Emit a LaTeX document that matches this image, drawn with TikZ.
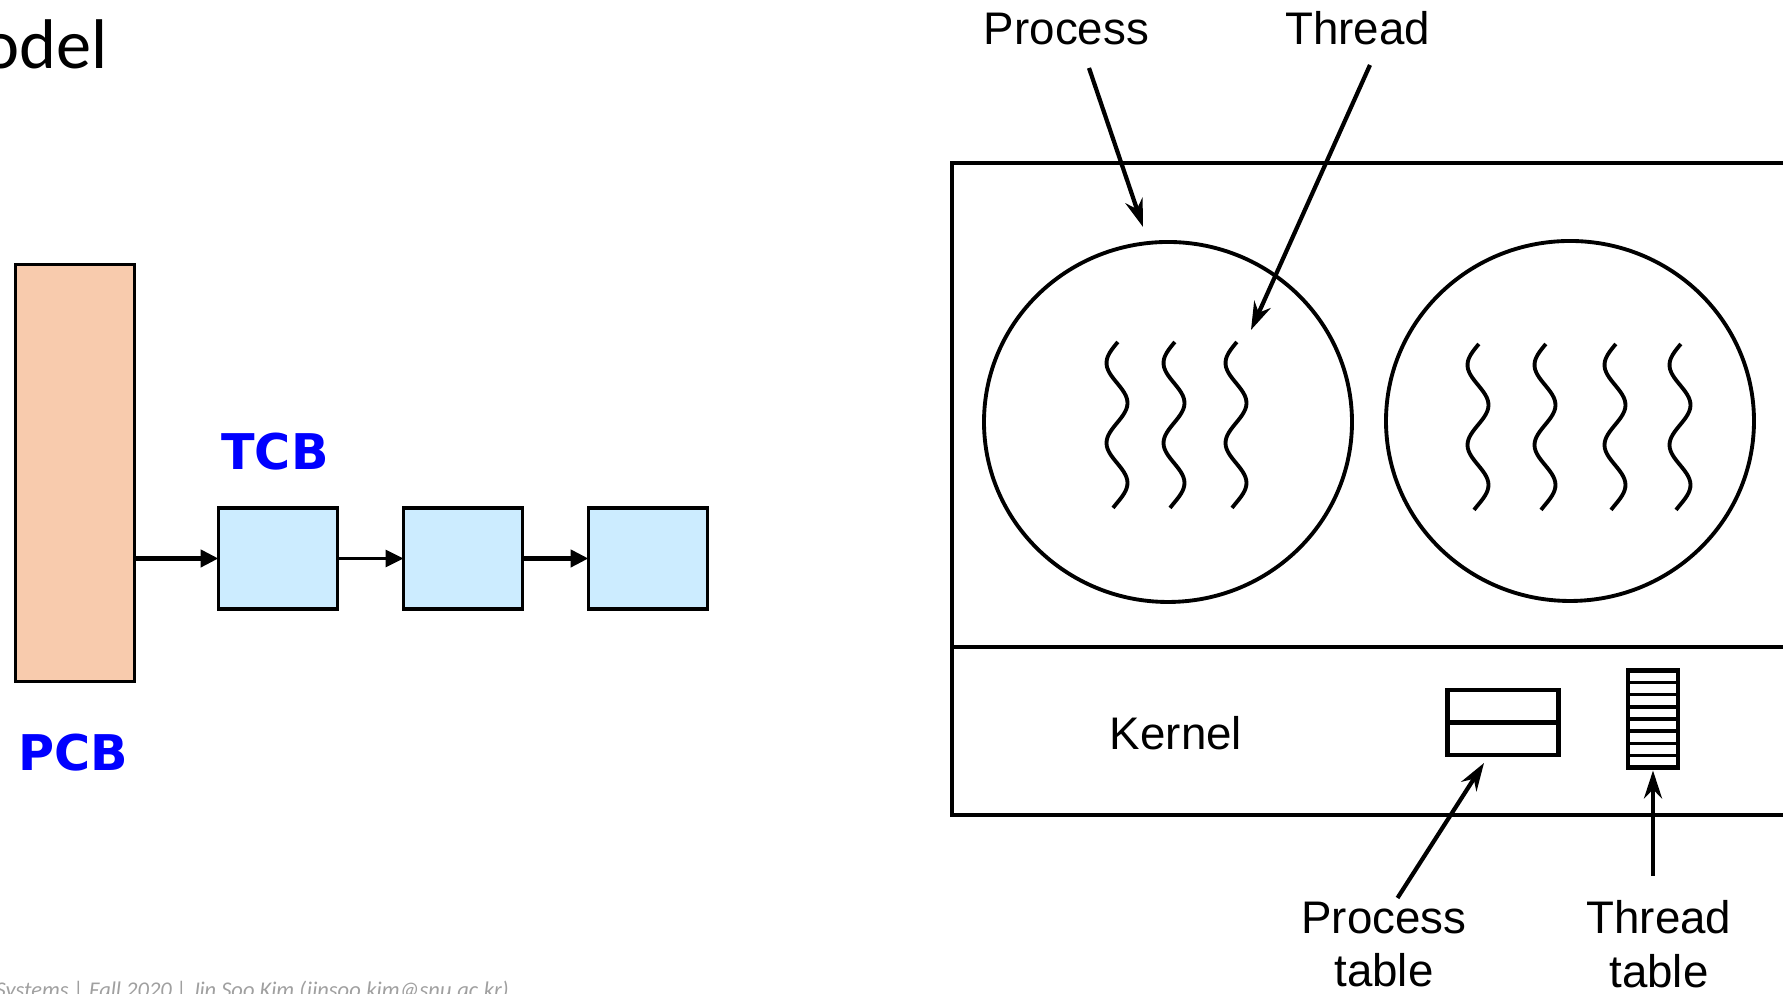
\documentclass[tikz,border=0pt]{standalone}
\usepackage{fontspec}
\setmainfont{Liberation Sans}
\newfontfamily\labelfont{Liberation Sans}
\newfontfamily\blockfont{DejaVu Sans}
\newfontfamily\slidefont{Carlito}
\usetikzlibrary{arrows.meta,positioning,shapes.geometric}
\definecolor{pcbfill}{HTML}{F8CBAD}
\definecolor{tcbfill}{HTML}{CCECFF}
\definecolor{footgray}{HTML}{A0A0A0}
\newcommand{\squiggle}[2]{\draw[thr] plot[domain=0:1.66,samples=60,variable=\t] ({#1-0.105*cos(450*(\t-0.21))},{#2-\t});}

\begin{document}
\begin{tikzpicture}[
    block/.style={draw, line width=1pt, outer sep=0pt, inner sep=0pt},
    pcbbox/.style={block, fill=pcbfill, minimum width=1.19cm, minimum height=4.17cm},
    tcbbox/.style={block, fill=tcbfill, minimum width=1.19cm, minimum height=1.01cm},
    link/.style={line width=1.4pt, -{Triangle[length=1.8mm,width=1.7mm]}},
    caption/.style={text=blue, font=\blockfont\bfseries\fontsize{14}{16}\selectfont},
    frame/.style={line width=1.1pt},
    proc/.style={ellipse, draw, line width=1.1pt, minimum width=3.68cm, minimum height=3.6cm},
    thr/.style={line width=1.1pt},
    ptr/.style={line width=1.2pt, -{Stealth[length=2.8mm,width=1.8mm]}},
    lbl/.style={font=\labelfont\fontsize{13}{15.3}\selectfont, align=center, inner sep=0pt},
  ]
  \useasboundingbox (0,0) rectangle (17.83,9.94);
  \clip (0,0) rectangle (17.83,9.94);

  % slide title and footer
  \node[font=\slidefont\fontsize{20}{23}\selectfont, anchor=base east, inner sep=0pt] (title) at (1.08,9.25) {odel};
  \node[font=\slidefont\itshape\fontsize{6.4}{7.5}\selectfont, text=footgray, anchor=base west, inner sep=0pt] (footer) at (-0.05,-0.04) {Systems | Fall 2020 | Jin Soo Kim (jinsoo.kim@snu.ac.kr)};

  % PCB with its list of TCBs
  \node[pcbbox] (pcb) at (0.75,5.21) {};
  \node[tcbbox] (tcb1) at (2.78,4.355) {};
  \node[tcbbox, right=0.66cm of tcb1] (tcb2) {};
  \node[tcbbox, right=0.66cm of tcb2] (tcb3) {};
  \node[caption] (tcblbl) at (2.75,5.425) {TCB};
  \node[caption] (pcblbl) at (0.73,2.41) {PCB};
  \draw[link] (pcb.east |- tcb1.west) -- (tcb1.west);
  \draw[link, line width=0.85pt] (tcb1) -- (tcb2);
  \draw[link] (tcb2) -- (tcb3);

  % user space and kernel
  \draw[frame] (18.6,8.31) -- (9.52,8.31) -- (9.52,1.79) -- (18.6,1.79);
  \draw[frame] (9.52,3.47) -- (18.6,3.47);
  \node[proc] (P1) at (11.68,5.72) {};
  \node[proc] (P2) at (15.70,5.73) {};
  \foreach \x in {11.17,11.74,12.36} {
    \squiggle{\x}{6.52}
  }
  \foreach \x in {14.78,15.45,16.15,16.80} {
    \squiggle{\x}{6.50}
  }

  \node[lbl, anchor=base] (proclbl) at (10.665,9.49) {Process};
  \node[lbl, anchor=base] (thrlbl) at (13.575,9.49) {Thread};
  \node[lbl] (kernlbl) at (11.76,2.61) {Kernel};
  \node[lbl] (ptlbl) at (13.84,0.495) {Process\\table};
  \node[lbl] (ttlbl) at (16.59,0.495) {Thread\\table};

  % tables in the kernel
  \node[block, line width=1.3pt, minimum width=1.11cm, minimum height=0.65cm] (ptab) at (15.03,2.715) {};
  \draw[line width=1.3pt] (ptab.west) -- (ptab.east);
  \node[block, line width=1.3pt, minimum width=0.50cm, minimum height=0.97cm] (ttab) at (16.53,2.75) {};
  \foreach \k in {1,...,7}
    \draw[line width=0.95pt] ([yshift=\k*0.12125cm]ttab.south west) -- ([yshift=\k*0.12125cm]ttab.south east);

  % pointers
  \coordinate (proctail) at (10.89,9.26);
  \coordinate (proctip) at (11.43,7.67);
  \coordinate (thrtail) at (13.70,9.29);
  \coordinate (thrtip) at (12.51,6.64);
  \coordinate (pttail) at (13.975,0.96);
  \coordinate (tttail) at (16.53,1.18);
  \draw[ptr] (proctail) -- (proctip);
  \draw[ptr] (thrtail) -- (thrtip);
  \draw[ptr] (pttail) -- ([xshift=-1.9mm,yshift=-0.8mm]ptab.south);
  \draw[ptr] (tttail) -- ([yshift=-0.3mm]ttab.south);
\end{tikzpicture}
\end{document}
